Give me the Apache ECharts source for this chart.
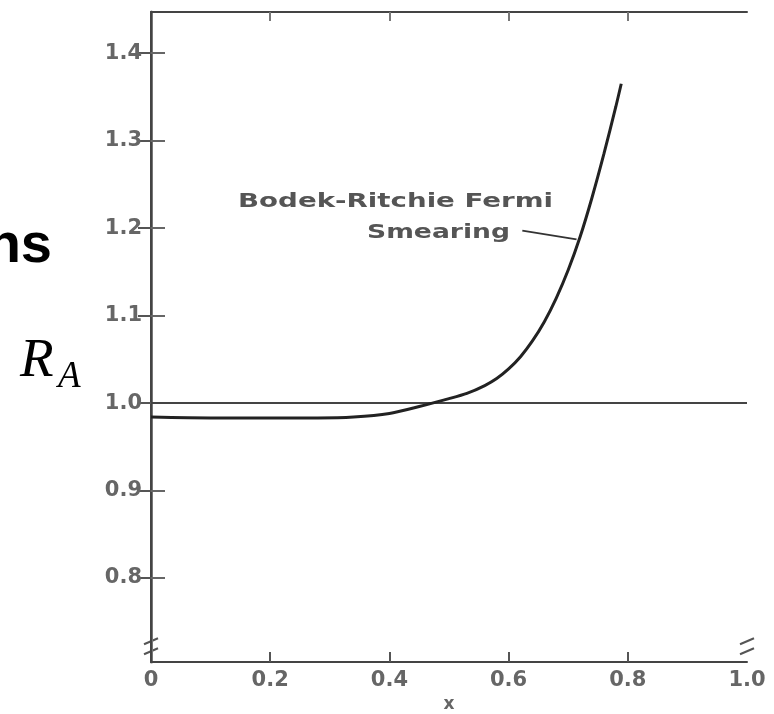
<!DOCTYPE html>
<html><head><meta charset="utf-8">
<script src="https://cdn.jsdelivr.net/npm/echarts@6/dist/echarts.min.js"></script>
<style>html,body{margin:0;padding:0;background:#fff}#c{width:774px;height:714px}</style>
</head><body><div id="c"></div>
<script>
// ---- data ----
const curveX = [0, 0.10, 0.20, 0.28, 0.34, 0.40, 0.45, 0.50, 0.53, 0.56, 0.58, 0.60, 0.62, 0.64, 0.66, 0.68, 0.70, 0.72, 0.74, 0.76, 0.78, 0.789];
const curveY = [0.984, 0.983, 0.983, 0.983, 0.984, 0.988, 0.996, 1.005, 1.011, 1.020, 1.028, 1.039, 1.053, 1.071, 1.093, 1.120, 1.152, 1.190, 1.235, 1.285, 1.339, 1.365];
const refX = [0, 1];
const refY = [1.0, 1.0];
const xTickValues = [0.2, 0.4, 0.6, 0.8];
const xLabelValues = [0, 0.2, 0.4, 0.6, 0.8, 1.0];
const yTickValues = [0.8, 0.9, 1.0, 1.1, 1.2, 1.3, 1.4];
const yLabelValues = [0.8, 0.9, 1.0, 1.1, 1.2, 1.3, 1.4];
const arrowFrom = [0.623, 1.197];
const arrowTo = [0.714, 1.187];
const annotationLines = ['Bodek-Ritchie Fermi', 'Smearing'];
const axisTitleX = 'x';

const chart = echarts.init(document.getElementById('c'), null, {renderer: 'canvas'});
const labelFont = {fontFamily: 'DejaVu Sans', fontSize: 21, fontWeight: 'bold', color: '#666'};
const fmt = v => (Math.abs(v) < 1e-9 ? '0' : v.toFixed(1));

function measure(text, font) {
  const c = document.createElement('canvas').getContext('2d');
  c.font = font;
  return c.measureText(text).width;
}
const annFont = 'bold 20px "DejaVu Sans"';
const scale1 = 315 / measure(annotationLines[0], annFont);
const scale2 = 143 / measure(annotationLines[1], annFont);

const option = {
  animation: false,
  backgroundColor: '#fff',
  grid: {left: 151, right: 27, top: 12, bottom: 52, containLabel: false, outerBoundsMode: 'none'},
  xAxis: [{
    type: 'value', min: 0, max: 1, position: 'bottom',
    axisLine: {show: true, lineStyle: {color: '#444', width: 2}},
    axisTick: {show: true, inside: true, length: 10, customValues: xTickValues, lineStyle: {color: '#555', width: 2}},
    axisLabel: {show: true, customValues: xLabelValues, formatter: fmt, margin: 8, ...labelFont},
    splitLine: {show: false},
    name: axisTitleX, nameLocation: 'middle', nameGap: 34,
    nameTextStyle: {fontFamily: 'DejaVu Sans', fontSize: 17, fontWeight: 'bold', color: '#666'}
  }, {
    type: 'value', min: 0, max: 1, position: 'top',
    axisLine: {show: true, lineStyle: {color: '#444', width: 2}},
    axisTick: {show: true, inside: true, length: 9, customValues: xTickValues, lineStyle: {color: '#777', width: 2}},
    axisLabel: {show: false}, splitLine: {show: false}
  }],
  yAxis: [{
    type: 'value', min: 0.704, max: 1.447, position: 'left',
    axisLine: {show: true, lineStyle: {color: '#777', width: 3}},
    axisTick: {show: true, inside: true, length: 14, customValues: yTickValues, lineStyle: {color: '#666', width: 2}},
    axisLabel: {show: true, customValues: yLabelValues, formatter: fmt, margin: 9, ...labelFont},
    splitLine: {show: false}
  }, {
    type: 'value', min: 0.704, max: 1.447, position: 'right',
    axisLine: {show: true, lineStyle: {color: '#444', width: 2}},
    axisTick: {show: true, inside: true, length: 13, customValues: yTickValues, lineStyle: {color: '#555', width: 2}},
    axisLabel: {show: false}, splitLine: {show: false}
  }],
  series: [{
    type: 'line', name: 'ref', xAxisIndex: 0, yAxisIndex: 0,
    data: refX.map((x, i) => [x, refY[i]]),
    showSymbol: false, symbol: 'none',
    lineStyle: {color: '#444', width: 2}, silent: true
  }, {
    type: 'line', name: 'Bodek-Ritchie Fermi Smearing', xAxisIndex: 0, yAxisIndex: 0,
    data: curveX.map((x, i) => [x, curveY[i]]),
    smooth: 0.25, showSymbol: false, symbol: 'none',
    lineStyle: {color: '#222', width: 3},
    markLine: {
      silent: true, symbol: ['none', 'arrow'], symbolSize: [0, 10],
      label: {show: false},
      lineStyle: {color: '#333', width: 1.8, type: 'solid', curveness: 0.12},
      data: [[{coord: arrowFrom}, {coord: arrowTo}]]
    }
  }],
  graphic: [
    {type: 'text', x: 52, y: 247, style: {text: 'ns', font: 'bold 56px "Liberation Sans"', fill: '#000', align: 'right', textAlign: 'right', verticalAlign: 'middle', textVerticalAlign: 'middle'}},
    {type: 'text', x: 20, y: 362, style: {text: 'R', font: 'italic 55px "Liberation Serif"', fill: '#000', align: 'left', textAlign: 'left', verticalAlign: 'middle', textVerticalAlign: 'middle'}},
    {type: 'text', x: 58, y: 377, style: {text: 'A', font: 'italic 37px "Liberation Serif"', fill: '#000', align: 'left', textAlign: 'left', verticalAlign: 'middle', textVerticalAlign: 'middle'}},
    {type: 'text', x: 238, y: 202, scaleX: scale1, style: {text: annotationLines[0], font: annFont, fill: '#555', align: 'left', textAlign: 'left', verticalAlign: 'middle', textVerticalAlign: 'middle'}},
    {type: 'text', x: 367, y: 233, scaleX: scale2, style: {text: annotationLines[1], font: annFont, fill: '#555', align: 'left', textAlign: 'left', verticalAlign: 'middle', textVerticalAlign: 'middle'}}
  ]
};
chart.setOption(option);

// axis-break marks near the bottom of both vertical axes
const pL = chart.convertToPixel({gridIndex: 0}, [0, 0.722]);
const pR = chart.convertToPixel({gridIndex: 0}, [1, 0.722]);
const brk = p => ([
  {type: 'rect', shape: {x: p[0] - 4, y: p[1] - 4, width: 8, height: 8}, style: {fill: '#fff'}},
  {type: 'line', shape: {x1: p[0] - 7, y1: p[1] - 2, x2: p[0] + 7, y2: p[1] - 8}, style: {stroke: '#555', lineWidth: 2}},
  {type: 'line', shape: {x1: p[0] - 7, y1: p[1] + 8, x2: p[0] + 7, y2: p[1] + 2}, style: {stroke: '#555', lineWidth: 2}}
]);
chart.setOption({graphic: option.graphic.concat(brk(pL), brk(pR))}, {replaceMerge: ['graphic']});
</script>
</body></html>
